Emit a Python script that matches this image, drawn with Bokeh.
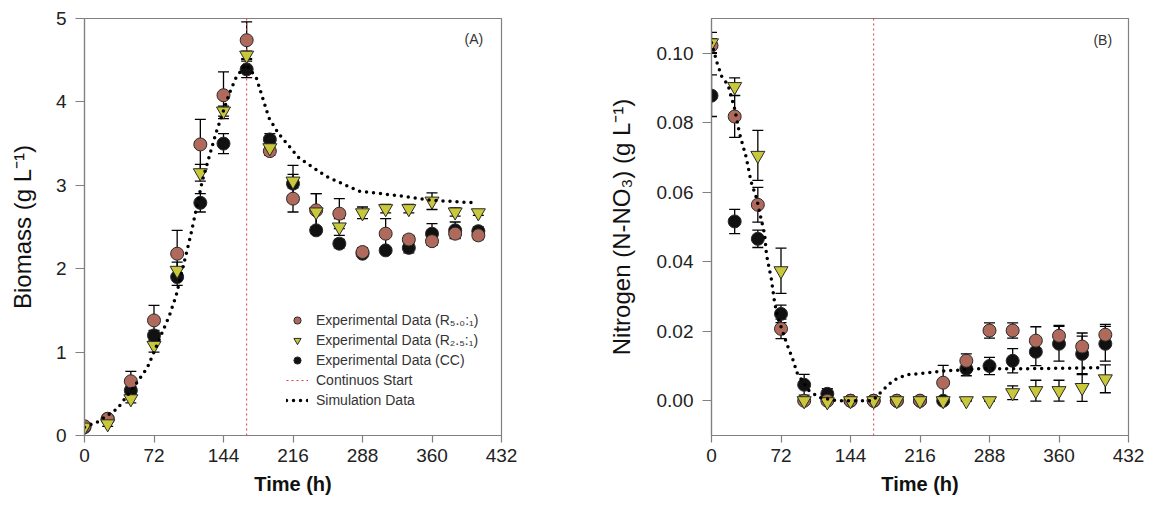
from bokeh.plotting import figure
from bokeh.models import (ColumnDataSource, Whisker, TeeHead, Range1d, FixedTicker,
                          NumeralTickFormatter, Label, Legend, LegendItem)
from bokeh.layouts import row
from bokeh.embed import file_html
from bokeh.resources import INLINE

# ---------------- data ----------------
time_h = [0, 24, 48, 72, 96, 120, 144, 168, 192, 216, 240, 264, 288, 312, 336, 360, 384, 408]

biomass_r50 = [0.11, 0.20, 0.65, 1.38, 2.18, 3.49, 4.08, 4.74, 3.41, 2.84, 2.70, 2.66, 2.20, 2.42, 2.35, 2.33, 2.42, 2.40]
biomass_r50_err = [0.03, 0.03, 0.12, 0.18, 0.28, 0.30, 0.28, 0.22, 0.05, 0.16, 0.20, 0.18, 0.05, 0.18, 0.05, 0.05, 0.05, 0.05]
biomass_r25 = [0.10, 0.14, 0.44, 1.08, 1.98, 3.15, 3.89, 4.56, 3.45, 3.05, 2.68, 2.50, 2.67, 2.72, 2.72, 2.81, 2.68, 2.67]
biomass_r25_err = [0.03, 0.03, 0.05, 0.08, 0.10, 0.10, 0.06, 0.05, 0.05, 0.08, 0.22, 0.10, 0.07, 0.05, 0.05, 0.10, 0.05, 0.03]
biomass_cc = [0.10, 0.20, 0.54, 1.20, 1.90, 2.79, 3.50, 4.39, 3.55, 3.02, 2.46, 2.30, 2.18, 2.22, 2.25, 2.42, 2.46, 2.45]
biomass_cc_err = [0.03, 0.03, 0.05, 0.06, 0.10, 0.11, 0.12, 0.10, 0.07, 0.22, 0.04, 0.05, 0.03, 0.03, 0.06, 0.12, 0.10, 0.05]

sim_biomass_t = [0, 13, 34, 54, 65, 77, 88, 95, 110, 122, 136, 150, 157, 167, 178, 191, 201, 222, 250, 284, 322, 360, 405]
sim_biomass = [0.10, 0.16, 0.32, 0.63, 0.81, 1.14, 1.44, 1.68, 2.40, 3.05, 3.62, 4.10, 4.29, 4.45, 4.29, 3.81, 3.62, 3.33, 3.11, 2.93, 2.88, 2.82, 2.79]

n_r50 = [0.1022, 0.0818, 0.0564, 0.0207, 0, 0, 0, 0, 0, 0, 0.0052, 0.0115, 0.0202, 0.0202, 0.0173, 0.0187, 0.0156, 0.0190]
n_r50_err = [0.002, 0.006, 0.005, 0.0028, 0, 0, 0, 0, 0, 0, 0.005, 0.002, 0.0022, 0.0022, 0.004, 0.003, 0.003, 0.003]
n_r25 = [0.1030, 0.0904, 0.0706, 0.0374, 0, -0.0003, 0, 0, 0, 0, 0, 0, 0, 0.0023, 0.0029, 0.0029, 0.0038, 0.0063]
n_r25_err = [0.003, 0.0025, 0.0072, 0.0065, 0.0006, 0.0006, 0, 0, 0, 0, 0, 0, 0, 0.002, 0.003, 0.003, 0.004, 0.004]
n_cc = [0.0878, 0.0516, 0.0466, 0.0250, 0.0046, 0.0020, 0, 0, 0, 0, 0, 0.0092, 0.0100, 0.0115, 0.0141, 0.0164, 0.0135, 0.0164]
n_cc_err = [0.006, 0.0035, 0.0025, 0.0025, 0.003, 0.0015, 0, 0, 0, 0, 0, 0.002, 0.0025, 0.0035, 0.004, 0.005, 0.006, 0.005]

sim_n_t = [0, 6, 11, 17, 24, 29, 36, 41, 47, 50, 55, 57, 62, 65, 68, 78, 84, 89, 101, 112, 130, 167, 177, 188, 202, 215, 243, 277, 320, 402]
sim_n = [0.103, 0.097, 0.093, 0.091, 0.084, 0.077, 0.070, 0.063, 0.058, 0.054, 0.048, 0.042, 0.035, 0.029, 0.0245,
         0.0164, 0.0121, 0.0078, 0.0029, 0.0009, 0, 0, 0.0029, 0.0058, 0.0075, 0.0078, 0.0086, 0.0092, 0.0092, 0.0095]

continuous_start = 168
x_ticks = [0, 72, 144, 216, 288, 360, 432]
biomass_ticks = [0, 1, 2, 3, 4, 5]
nitrogen_ticks = [0.0, 0.02, 0.04, 0.06, 0.08, 0.10]

labels = ["Experimental Data (R\u2085.\u2080:\u2081)", "Experimental Data (R\u2082.\u2085:\u2081)",
          "Experimental Data (CC)", "Continuos Start", "Simulation Data"]

# ---------------- style ----------------
FONT = "Liberation Sans"
BROWN = "#B06A5C"
YELLOW = "#C8C83A"
BLACK = "#111111"
GRAY = "#808080"


def make_fig(yr, yticks, ylabel, min_left, min_right, fmt=None, label_standoff=18):
    p = figure(frame_width=417, frame_height=417, x_range=Range1d(0, 432), y_range=yr,
               output_backend="svg", toolbar_location=None,
               min_border_left=min_left, min_border_right=min_right,
               min_border_top=18, min_border_bottom=72)
    p.grid.visible = False
    p.outline_line_color = GRAY
    p.outline_line_width = 1.2
    p.background_fill_color = "white"
    p.border_fill_color = "white"
    p.xaxis.ticker = FixedTicker(ticks=x_ticks)
    p.yaxis.ticker = FixedTicker(ticks=yticks)
    if fmt:
        p.yaxis.formatter = NumeralTickFormatter(format=fmt)
    for ax in (p.xaxis[0], p.yaxis[0]):
        ax.axis_line_color = GRAY
        ax.axis_line_width = 1.2
        ax.major_tick_line_color = GRAY
        ax.major_tick_line_width = 1.2
        ax.major_tick_in = 0
        ax.minor_tick_line_color = None
        ax.major_label_text_font = FONT
        ax.major_label_text_font_size = "19px"
        ax.major_label_text_color = "#222222"
        ax.axis_label_text_font = FONT
        ax.axis_label_text_color = "#111111"
    p.yaxis.major_tick_out = 9
    p.yaxis.major_label_standoff = 9
    p.xaxis.major_tick_out = 7
    p.xaxis.major_label_standoff = 6
    p.xaxis.axis_label = "Time (h)"
    p.xaxis.axis_label_text_font_style = "bold"
    p.xaxis.axis_label_text_font_size = "20px"
    p.xaxis.axis_label_standoff = 8
    p.yaxis.axis_label = ylabel
    p.yaxis.axis_label_text_font_style = "normal"
    p.yaxis.axis_label_text_font_size = "24px"
    p.yaxis.axis_label_standoff = label_standoff
    return p


def add_series(p, y, err, marker, color):
    src = ColumnDataSource(dict(t=time_h, y=y,
                                up=[a + e for a, e in zip(y, err)],
                                lo=[a - e for a, e in zip(y, err)]))
    w = Whisker(base="t", upper="up", lower="lo", source=src,
                line_color="black", line_width=1.3,
                upper_head=TeeHead(size=11, line_color="black", line_width=1.3),
                lower_head=TeeHead(size=11, line_color="black", line_width=1.3))
    p.add_layout(w)
    return p.scatter("t", "y", source=src, marker=marker, size=13 if marker == "circle" else 14,
                     fill_color=color, line_color="#2a2a2a", line_width=1)


# ---------------- panel A ----------------
pA = make_fig(Range1d(0, 5), biomass_ticks, "Biomass (g L\u207b\u00b9)", 84, 66, label_standoff=17)
rA_start = pA.line([continuous_start, continuous_start], [0, 5],
                   line_color="#E03A3A", line_width=1, line_dash="2 3")
rA_cc = add_series(pA, biomass_cc, biomass_cc_err, "circle", BLACK)
rA_r50 = add_series(pA, biomass_r50, biomass_r50_err, "circle", BROWN)
rA_r25 = add_series(pA, biomass_r25, biomass_r25_err, "inverted_triangle", YELLOW)
rA_sim = pA.line(sim_biomass_t, sim_biomass, line_color="black", line_width=3.5,
                 line_dash="0 7", line_cap="round")

legend = Legend(items=[LegendItem(label=labels[0], renderers=[rA_r50]),
                       LegendItem(label=labels[1], renderers=[rA_r25]),
                       LegendItem(label=labels[2], renderers=[rA_cc]),
                       LegendItem(label=labels[3], renderers=[rA_start]),
                       LegendItem(label=labels[4], renderers=[rA_sim])],
                location=(198, 22), padding=4, margin=0, spacing=2,
                label_height=18, glyph_height=18, glyph_width=22, label_standoff=8,
                label_text_font=FONT, label_text_font_size="14px", label_text_color="#333333",
                border_line_alpha=0, background_fill_alpha=0)
pA.add_layout(legend)
pA.add_layout(Label(x=413, y=4.75, text="(A)", text_align="right", text_baseline="middle",
                    text_font=FONT, text_font_size="14px", text_color="#333333"))

# ---------------- panel B ----------------
pB = make_fig(Range1d(-0.01, 0.11), nitrogen_ticks, "Nitrogen (N-NO\u2083) (g L\u207b\u00b9)", 144, 16,
              fmt="0.00", label_standoff=19)
pB.line([continuous_start, continuous_start], [-0.01, 0.11],
        line_color="#E03A3A", line_width=1, line_dash="2 3")
add_series(pB, n_cc, n_cc_err, "circle", BLACK)
add_series(pB, n_r50, n_r50_err, "circle", BROWN)
add_series(pB, n_r25, n_r25_err, "inverted_triangle", YELLOW)
pB.line(sim_n_t, sim_n, line_color="black", line_width=3.5, line_dash="0 7", line_cap="round")
pB.add_layout(Label(x=415, y=0.1037, text="(B)", text_align="right", text_baseline="middle",
                    text_font=FONT, text_font_size="14px", text_color="#333333"))

layout = row(pA, pB)
open("out.html", "w").write(file_html(layout, INLINE))
